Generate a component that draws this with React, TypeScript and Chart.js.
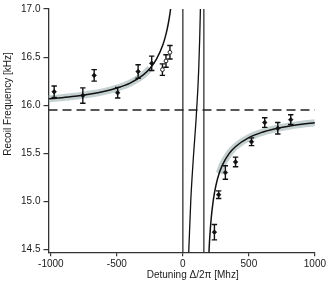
import React, { useEffect, useRef } from "react";
import { Chart, registerables } from "chart.js";

Chart.register(...registerables);

// Tick labels
const xTicks = [-1000, -500, 0, 500, 1000];
const yTicks = [14.5, 15.0, 15.5, 16.0, 16.5, 17.0];
const xTitle = "Detuning Δ/2π [Mhz]";
const yTitle = "Recoil Frequency [kHz]";

// Measured points (filled)
const filledX = [-975, -758, -672, -494, -339, -236, 239, 271, 322, 399, 520, 620, 719, 817];
const filledY = [16.14, 16.10, 16.31, 16.13, 16.35, 16.435, 14.68, 15.07, 15.30, 15.41, 15.62, 15.82, 15.76, 15.85];
const filledErr = [0.06, 0.08, 0.06, 0.055, 0.07, 0.075, 0.08, 0.04, 0.07, 0.05, 0.04, 0.05, 0.06, 0.05];

// Measured points (open)
const openX = [-155, -128, -98];
const openY = [16.37, 16.46, 16.55];
const openErr = [0.06, 0.065, 0.07];

// Theory curve, left branch
const leftX = [-1018, -900, -800, -700, -600, -500, -400, -300, -250, -200, -150, -125, -110, -100, -92, -85];
const leftY = [16.066, 16.081, 16.096, 16.116, 16.142, 16.178, 16.23, 16.315, 16.381, 16.478, 16.633, 16.755, 16.852, 16.933, 17.01, 17.088];

// Theory curve, middle branch
const midX = [40, 45, 60, 80, 100, 120, 133, 140];
const midY = [14.257, 14.5, 15.013, 15.465, 15.856, 16.375, 17.017, 17.7];

// Theory curve, right branch
const rightX = [190, 199, 205, 215, 230, 250, 275, 300, 350, 400, 500, 600, 700, 800, 900, 1000];
const rightY = [14.203, 14.511, 14.654, 14.83, 15.009, 15.164, 15.292, 15.38, 15.497, 15.571, 15.663, 15.718, 15.755, 15.782, 15.802, 15.818];

// Uncertainty band ranges (indices into branches)
const bandLeftCount = 9; // -1018 .. -250
const bandRightStart = 6; // 275 .. 1000

// Resonance markers and free-space recoil level
const resonanceX = [0, 159];
const freeLevel = 15.95;

const X_MIN = -1018;
const X_MAX = 1000;
const Y_MIN = 14.471;
const Y_MAX = 17.0;

const FONT = "'Liberation Sans', Arial, Helvetica, sans-serif";

const xy = (xs: number[], ys: number[]) => xs.map((x, i) => ({ x, y: ys[i] }));

export default function App() {
  const ref = useRef<HTMLCanvasElement>(null);

  useEffect(() => {
    const canvas = ref.current;
    if (!canvas) return;

    const errorBars = {
      id: "errorBars",
      beforeDatasetDraw(chart: any, args: any) {
        const ds = chart.data.datasets[args.index];
        if (!ds.errors) return;
        const c = chart.ctx;
        const xs = chart.scales.x;
        const ys = chart.scales.y;
        c.save();
        c.strokeStyle = "#111";
        c.lineWidth = 1.4;
        ds.data.forEach((p: any, i: number) => {
          const e = ds.errors[i];
          const px = xs.getPixelForValue(p.x);
          const top = ys.getPixelForValue(p.y + e);
          const bot = ys.getPixelForValue(p.y - e);
          c.beginPath();
          c.moveTo(px, top);
          c.lineTo(px, bot);
          c.moveTo(px - 2.7, top);
          c.lineTo(px + 2.7, top);
          c.moveTo(px - 2.7, bot);
          c.lineTo(px + 2.7, bot);
          c.stroke();
        });
        c.restore();
      },
    };

    const titles = {
      id: "titles",
      afterDraw(chart: any) {
        const c = chart.ctx;
        const a = chart.chartArea;
        c.save();
        c.fillStyle = "#1a1a1a";
        c.font = `10px ${FONT}`;
        c.textAlign = "center";
        c.textBaseline = "alphabetic";
        c.fillText(xTitle, (a.left + a.right) / 2 + 11, 278);
        c.translate(10.5, 104);
        c.rotate(-Math.PI / 2);
        c.fillText(yTitle, 0, 0);
        c.restore();
      },
    };

    const lineDs = (data: any[], color: string, width: number, order: number, extra: any = {}) => ({
      data,
      showLine: true,
      borderColor: color,
      borderWidth: width,
      pointRadius: 0,
      pointHoverRadius: 0,
      fill: false,
      order,
      cubicInterpolationMode: "monotone",
      ...extra,
    });

    const bandColor = "rgba(178,192,192,0.75)";

    const chart = new Chart(canvas, {
      type: "scatter",
      data: {
        datasets: [
          {
            data: xy(filledX, filledY),
            errors: filledErr,
            pointStyle: "rectRot",
            pointRadius: 2.4,
            backgroundColor: "#111",
            borderColor: "#111",
            borderWidth: 0.5,
            order: 0,
          } as any,
          {
            data: xy(openX, openY),
            errors: openErr,
            pointStyle: "circle",
            pointRadius: 1.9,
            backgroundColor: "#fff",
            borderColor: "#222",
            borderWidth: 1,
            order: 0,
          } as any,
          lineDs(xy(leftX, leftY), "#111", 1.5, 1),
          lineDs(xy(midX, midY), "#111", 1.3, 1),
          lineDs(xy(rightX, rightY), "#111", 1.5, 1),
          lineDs(xy([resonanceX[0], resonanceX[0]], [Y_MIN - 1, Y_MAX + 1]), "#222", 1.2, 2),
          lineDs(xy([resonanceX[1], resonanceX[1]], [Y_MIN - 1, Y_MAX + 1]), "#222", 1.2, 2),
          lineDs(xy([X_MIN, X_MAX], [freeLevel, freeLevel]), "#222", 1.3, 3, { borderDash: [9, 5] }),
          lineDs(
            xy(leftX.slice(0, bandLeftCount), leftY.slice(0, bandLeftCount)),
            bandColor,
            7,
            4,
          ),
          lineDs(xy(rightX.slice(bandRightStart), rightY.slice(bandRightStart)), bandColor, 7, 4),
        ] as any,
      },
      options: {
        responsive: false,
        animation: false,
        devicePixelRatio: 1,
        events: [],
        layout: { padding: { top: 6.5, right: 12, left: 0, bottom: 0 } },
        plugins: {
          legend: { display: false },
          tooltip: { enabled: false },
          title: { display: false },
        },
        scales: {
          x: {
            type: "linear",
            min: X_MIN,
            max: X_MAX,
            afterBuildTicks: (s: any) => {
              s.ticks = xTicks.map((v) => ({ value: v }));
            },
            afterFit: (s: any) => {
              s.height = 33.7;
            },
            ticks: {
              color: "#1a1a1a",
              font: { family: FONT, size: 10 },
              padding: 2,
              maxRotation: 0,
              autoSkip: false,
              callback: (v: any) => String(v),
            },
            grid: {
              display: true,
              drawOnChartArea: false,
              drawTicks: true,
              tickLength: 4,
              color: "#333",
              lineWidth: 1.2,
            },
            border: { display: true, color: "#333", width: 1.3 },
          },
          y: {
            type: "linear",
            min: Y_MIN,
            max: Y_MAX,
            afterBuildTicks: (s: any) => {
              s.ticks = yTicks.map((v) => ({ value: v }));
            },
            afterFit: (s: any) => {
              s.width = 48.5;
            },
            ticks: {
              color: "#1a1a1a",
              font: { family: FONT, size: 10 },
              padding: 3,
              autoSkip: false,
              callback: (v: any) => Number(v).toFixed(1),
            },
            grid: {
              display: true,
              drawOnChartArea: false,
              drawTicks: true,
              tickLength: 5,
              color: "#333",
              lineWidth: 1.2,
            },
            border: { display: true, color: "#333", width: 1.3 },
          },
        },
      } as any,
      plugins: [errorBars, titles],
    });

    return () => chart.destroy();
  }, []);

  return (
    <div style={{ position: "absolute", left: 0, top: 0, width: 328, height: 286, background: "#fff" }}>
      <canvas ref={ref} width={328} height={286} style={{ width: 328, height: 286, display: "block" }} />
    </div>
  );
}
